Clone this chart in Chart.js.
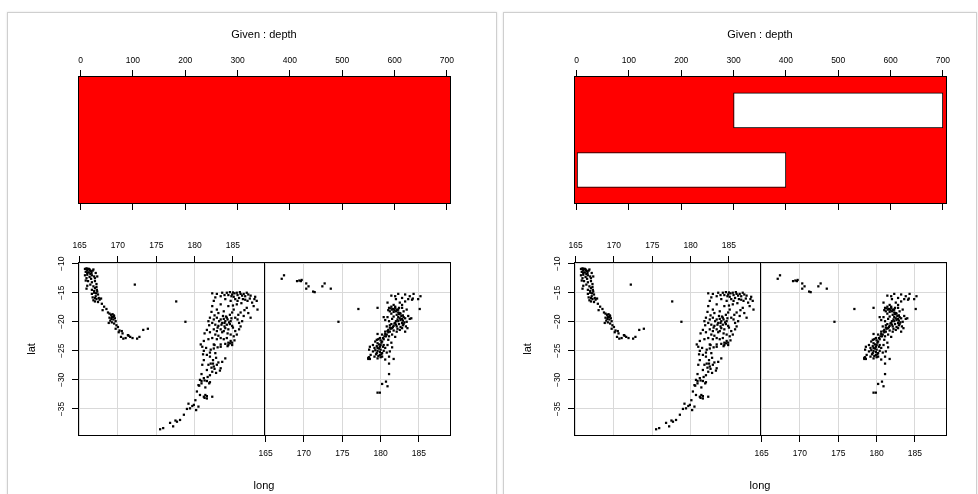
<!DOCTYPE html>
<html>
<head>
<meta charset="utf-8">
<title>Given : depth</title>
<script src="https://cdn.jsdelivr.net/npm/chart.js@4.4.1/dist/chart.umd.min.js"></script>
<style>
  html, body { margin: 0; padding: 0; background: #fff; width: 978px; height: 494px; overflow: hidden; }
  .card { position: absolute; top: 12px; height: 500px; box-sizing: border-box; border: 1px solid #cfcfcf; box-shadow: 0 0 2px rgba(0,0,0,0.12); background: #fff; }
  .plot { position: absolute; }
</style>
</head>
<body>
<div class="card" style="left:7px; width:490px;"></div>
<div class="card" style="left:503px; width:474px;"></div>
<canvas class="plot" id="givenLeft" width="489" height="220" style="left:7px; top:12px;"></canvas>
<canvas class="plot" id="scatterLeft" width="489" height="262" style="left:7px; top:232px;"></canvas>
<canvas class="plot" id="givenRight" width="489" height="220" style="left:503px; top:12px;"></canvas>
<canvas class="plot" id="scatterRight" width="489" height="262" style="left:503px; top:232px;"></canvas>
<script>
// given panel (depth)
const depthTicks = [0, 100, 200, 300, 400, 500, 600, 700];
const depthRange = [-5, 706];
const givenLevelRange = [0.43, 2.575];

// left copy draws only the red strip, right copy has the two intervals
const leftIntervalFrom = [];
const leftIntervalTo = [];
const leftIntervalLevel = [];
const rightIntervalFrom = [0, 300];
const rightIntervalTo = [400, 700];
const rightIntervalLevel = [1, 2];

// conditioning scatter (long / lat)
const longTicks = [165, 170, 175, 180, 185];
const latTicks = [-35, -30, -25, -20, -15, -10];
const longRange = [164.79, 189.05];
const latRange = [-39.66, -9.71];

// [long, lat] for the lower depth interval (left panel)
const shallowQuakes = [
  [165.7,-10.9],[165.9,-10.8],[166.1,-10.9],[166.3,-11.0],[166.0,-11.2],[165.8,-11.4],[166.2,-11.5],[166.5,-11.3],
  [166.7,-11.2],[166.4,-11.8],[166.0,-11.9],[165.7,-12.0],[166.6,-12.0],[166.9,-12.2],[167.1,-11.6],[166.3,-12.3],
  [165.9,-12.5],[166.5,-12.6],[167.0,-12.5],[166.8,-11.0],[166.2,-10.9],[165.8,-12.9],[166.1,-13.0],[166.6,-13.2],
  [167.0,-13.0],[166.4,-13.6],[166.0,-13.8],[166.8,-13.9],[167.2,-13.5],[165.9,-14.3],[166.6,-14.5],[167.0,-14.2],
  [167.3,-14.8],[166.9,-15.0],[167.4,-15.3],[167.1,-15.6],[166.7,-15.8],[167.5,-15.9],[167.2,-16.1],[166.8,-16.3],
  [167.0,-16.5],[167.6,-16.2],[167.8,-16.0],[167.4,-16.6],[166.6,-15.2],[167.2,-14.0],[167.3,-12.2],[166.0,-11.6],
  [166.35,-11.15],[165.95,-10.95],[166.55,-11.6],[167.15,-15.1],[167.25,-14.5],[167.0,-15.9],[166.9,-14.7],
  [167.9,-16.9],[168.2,-17.4],[168.0,-18.0],[168.5,-17.8],[168.7,-18.4],[168.9,-18.6],[169.1,-18.8],[169.3,-18.7],
  [169.5,-19.0],[169.2,-19.2],[168.9,-19.3],[169.6,-19.4],[169.4,-19.6],[169.0,-19.8],[169.7,-19.9],[169.2,-20.1],
  [168.8,-20.2],[169.5,-20.3],[169.8,-20.6],[170.0,-20.9],[169.7,-21.2],[170.2,-21.5],[170.1,-21.8],[170.6,-22.0],
  [170.4,-22.6],[170.7,-22.9],[171.0,-22.8],[171.4,-22.4],[171.6,-22.6],[171.9,-22.8],[172.5,-22.9],[172.8,-22.6],
  [173.3,-21.4],[173.9,-21.2],[172.2,-13.6],[169.35,-19.15],[169.45,-18.9],[169.15,-19.5],[170.5,-21.6],[171.3,-22.3],
  [177.6,-16.5],[178.8,-20.0],
  [182.3,-15.1],[182.9,-15.2],[183.4,-15.6],[184.2,-15.0],[184.6,-14.9],[184.9,-15.3],[185.1,-15.7],[185.5,-15.0],
  [186.0,-15.2],[186.4,-15.2],[186.8,-15.0],[187.3,-15.5],[187.9,-15.7],[188.1,-16.4],[187.5,-16.7],[186.9,-16.4],
  [186.3,-16.1],[185.8,-15.9],[185.3,-16.1],[184.7,-16.4],[184.0,-16.1],[184.4,-17.3],[185.1,-17.9],[185.5,-17.0],
  [186.8,-17.6],[186.0,-18.4],[187.7,-17.3],[188.2,-17.9],[187.3,-19.3],[182.5,-16.4],[183.4,-17.0],[182.9,-17.9],
  [182.3,-17.3],[183.8,-18.2],[184.9,-18.4],[185.3,-19.3],[184.7,-19.9],[184.2,-19.3],[184.0,-19.9],[183.8,-19.5],
  [183.6,-20.2],[183.4,-19.6],[182.9,-19.3],[182.5,-19.6],[182.0,-19.3],[181.8,-19.9],[182.3,-20.2],[182.7,-20.5],
  [183.1,-20.7],[184.2,-20.5],[184.9,-20.7],[185.8,-20.2],[186.2,-19.9],[186.4,-19.0],[184.4,-21.3],[183.8,-21.6],
  [183.4,-21.3],[182.9,-21.6],[182.5,-21.3],[182.0,-21.8],[185.3,-21.6],[185.5,-22.2],[185.1,-22.5],[184.7,-22.2],
  [184.2,-22.8],[183.8,-23.0],[183.4,-22.8],[182.9,-23.0],[182.3,-22.8],[181.8,-23.0],[181.2,-23.3],[180.8,-23.9],
  [182.5,-23.9],[183.4,-23.9],[184.4,-23.6],[184.7,-23.3],[184.3,-19.6],[184.5,-20.1],[183.9,-20.8],[184.8,-15.6],
  [185.6,-15.4],[186.6,-15.6],[187.0,-15.3],[185.2,-15.1],[183.9,-15.4],[184.0,-23.8],[184.9,-24.0],[184.6,-23.7],
  [185.6,-16.4],[186.1,-16.8],[185.0,-17.2],[184.6,-18.8],[183.1,-18.5],[185.7,-18.8],[181.5,-24.5],
  [183.7,-19.0],[184.1,-19.1],[183.5,-20.5],[183.9,-20.2],[184.6,-20.4],[183.2,-19.9],[184.8,-19.4],[183.0,-21.0],
  [184.0,-21.1],[183.6,-21.8],[185.0,-21.0],[184.3,-22.0],[185.8,-21.3],[186.0,-20.8],[185.6,-19.6],[186.5,-18.0],
  [187.0,-18.5],[186.6,-16.2],[187.2,-16.0],[187.8,-16.1],[186.2,-15.5],[185.9,-14.9],[185.0,-14.95],[184.4,-15.4],
  [183.6,-15.0],[182.7,-15.8],[182.2,-18.3],[182.6,-18.9],[181.9,-20.6],[181.6,-21.4],[181.3,-22.0],[182.7,-22.2],
  [183.1,-22.4],[184.9,-23.6],[185.2,-23.2],[184.3,-24.2],[183.0,-24.4],[182.1,-24.8],
  [181.0,-24.3],[181.2,-25.0],[182.5,-24.6],[182.7,-25.4],[183.4,-24.3],[184.4,-24.0],[182.0,-26.0],[182.4,-26.6],
  [182.1,-27.2],[181.8,-27.4],[182.5,-27.7],[182.9,-27.4],[183.4,-28.0],[183.6,-26.9],[184.0,-26.3],[181.6,-28.3],
  [182.3,-28.6],[182.0,-29.2],[181.2,-26.6],[181.0,-27.4],[180.7,-30.0],[181.2,-29.7],[181.6,-30.2],[182.0,-30.4],
  [180.9,-30.6],[180.5,-30.9],[180.3,-32.0],[180.7,-32.6],[181.2,-32.9],[181.4,-32.6],[181.6,-33.2],[182.3,-32.9],
  [180.1,-33.5],[179.9,-34.3],[180.2,-35.2],[180.5,-34.6],[182.2,-27.9],[182.6,-28.1],[182.0,-25.3],[181.1,-25.6],
  [183.3,-28.4],[180.9,-30.2],[181.3,-30.1],[181.6,-32.8],[181.3,-33.1],[181.9,-30.6],[182.6,-24.0],[181.4,-31.3],
  [180.6,-31.0],[181.6,-25.7],[182.8,-26.2],[183.1,-27.0],[182.4,-27.2],[182.8,-28.8],[181.7,-29.5],[180.9,-29.0],
  [179.2,-34.1],[179.4,-34.9],[178.6,-36.0],[178.1,-36.9],[177.7,-37.2],[177.5,-37.0],[176.8,-37.4],[177.2,-38.0],
  [175.9,-38.3],[175.5,-38.5],[179.7,-34.5],[179.0,-35.0]
];

// [long, lat] for the upper depth interval (right panel)
const deepQuakes = [
  [167.1,-12.6],[167.4,-12.0],[169.1,-13.0],[169.4,-12.9],[169.6,-13.0],[169.7,-12.8],[170.3,-13.4],[170.6,-13.9],
  [170.3,-14.3],[171.2,-14.8],[171.4,-14.9],[172.4,-13.9],[172.7,-13.4],[173.5,-14.3],
  [177.1,-17.8],[174.5,-20.0],[179.6,-17.6],
  [181.4,-15.5],[182.3,-15.2],[183.2,-15.3],[184.3,-15.2],[185.2,-15.6],[184.9,-16.1],[185.1,-17.8],[183.6,-16.1],
  [184.1,-16.2],[182.8,-15.9],[182.5,-16.7],[182.0,-16.1],[180.9,-16.7],[181.7,-17.1],[181.4,-17.4],[181.1,-17.6],
  [181.5,-17.9],[181.9,-17.6],[182.3,-17.9],[182.8,-17.6],[183.4,-17.9],[182.5,-18.5],[182.1,-18.8],[182.3,-19.2],
  [182.8,-19.5],[183.2,-19.4],[183.8,-19.5],[183.1,-20.1],[182.8,-20.2],[182.3,-19.9],[181.9,-20.2],[181.7,-20.7],
  [182.1,-20.8],[181.5,-21.1],[181.2,-20.6],[181.0,-21.4],[180.8,-20.8],[180.6,-21.7],[181.2,-21.7],[181.7,-21.5],
  [182.1,-21.7],[182.5,-21.4],[182.8,-21.1],[183.2,-21.7],[180.4,-19.2],[180.6,-19.7],[180.9,-19.2],[181.1,-19.9],
  [181.5,-19.5],[181.7,-19.1],[180.2,-22.2],[180.5,-22.5],[180.8,-22.2],[181.1,-22.5],[181.5,-22.2],[181.9,-22.6],
  [181.0,-23.1],[179.9,-22.8],[179.6,-22.1],[179.5,-23.1],[179.3,-23.4],[179.6,-23.7],[180.2,-23.4],[180.4,-24.0],
  [179.9,-24.3],[179.6,-24.5],[180.0,-24.8],[179.2,-24.5],[179.0,-25.1],[179.5,-25.4],[179.9,-25.7],[179.6,-26.3],
  [180.2,-26.0],[179.2,-26.0],[178.7,-25.7],[178.5,-24.8],[178.4,-26.2],[178.4,-26.4],[178.6,-26.4],[180.6,-24.5],
  [180.8,-25.3],[181.2,-25.1],[181.1,-26.0],[181.7,-26.4],[179.0,-24.0],[178.6,-24.3],[181.1,-27.2],[181.1,-29.0],
  [180.2,-30.7],[180.7,-30.3],[180.9,-31.1],[179.6,-32.2],[179.9,-32.2],[183.5,-21.1],[182.9,-20.6],[183.4,-20.0],
  [184.0,-19.4],[182.8,-17.1],[183.2,-16.5],[181.9,-15.6],[183.8,-15.6],[184.2,-16.0],
  [181.6,-17.8],[181.8,-18.0],[182.0,-18.2],[181.9,-17.4],[182.2,-18.0],[182.6,-18.6],[182.7,-19.0],[182.5,-19.4],
  [182.9,-19.8],[182.4,-20.4],[182.0,-20.5],[181.6,-20.9],[181.3,-21.2],[181.0,-21.8],[180.7,-22.5],[180.4,-23.0],
  [180.1,-23.6],[180.0,-24.0],[179.8,-24.6],[179.9,-25.2],[180.2,-25.4],[179.7,-25.9],[180.0,-26.1],[181.2,-18.2],
  [181.4,-18.6],[182.3,-18.4],[183.0,-20.4],[182.6,-20.9],
  [181.3,-17.7],[181.7,-18.3],[182.1,-17.9],[182.4,-18.7],[182.9,-18.9],[183.0,-19.2],[182.6,-19.7],[182.2,-19.6],
  [182.0,-19.9],[181.8,-20.3],[181.4,-20.4],[181.2,-21.0],[180.9,-21.6],[180.6,-22.1],[180.3,-22.8],[180.0,-23.2],
  [179.7,-23.0],[179.8,-23.9],[180.3,-24.3],[179.5,-24.2],[179.3,-24.9],[180.4,-25.0],[179.6,-25.0],[180.1,-25.6],
  [179.4,-25.6],[178.4,-26.3],[178.5,-26.1],[181.0,-18.0],[182.4,-17.6],[183.0,-18.2],[183.6,-19.0],[183.3,-20.8],
  [182.2,-21.2],[181.4,-23.6],[180.9,-24.0],[181.5,-24.4],[180.6,-26.5]
];

const AXIS_FONT = { family: '"Liberation Sans", Arial, Helvetica, sans-serif', size: 8.5 };
const TITLE_FONT = { family: '"Liberation Sans", Arial, Helvetica, sans-serif', size: 11 };
const GRID_COLOR = '#d9d9d9';

const minusSign = (v) => String(v).replace('-', '\u2212');
const fixedTicks = (values) => (scale) => { scale.ticks = values.map(v => ({ value: v })); };
const fixedSize = (prop, size) => (scale) => { scale[prop] = size; };

/**
 * Red background for the given panel, black frame round each panel.
 * With split on, the frame follows the two long scales (one per panel).
 */
const panelFrame = {
  id: 'panelFrame',
  beforeDraw(chart, args, opts) {
    if (!opts.fill) return;
    const a = chart.chartArea;
    const ctx = chart.ctx;
    ctx.save();
    ctx.fillStyle = opts.fill;
    ctx.fillRect(a.left, a.top, a.right - a.left, a.bottom - a.top);
    ctx.restore();
  },
  afterDraw(chart, args, opts) {
    const a = chart.chartArea;
    const ctx = chart.ctx;
    let spans = [[a.left, a.right]];
    if (opts.split) {
      const top = chart.scales.xTop;
      const bottom = chart.scales.xBottom;
      spans = [
        [top.getPixelForValue(longRange[0]), top.getPixelForValue(longRange[1])],
        [bottom.getPixelForValue(longRange[0]), bottom.getPixelForValue(longRange[1])]
      ];
    }
    ctx.save();
    ctx.strokeStyle = '#000';
    ctx.lineWidth = 1;
    const y0 = Math.round(a.top) + 0.5;
    const y1 = Math.round(a.bottom) - 0.5;
    spans.forEach(([l, r]) => {
      const x0 = Math.round(l) + 0.5;
      const x1 = Math.round(r) + 0.5;
      ctx.strokeRect(x0, y0, x1 - x0, y1 - y0);
    });
    ctx.restore();
  }
};

function depthAxis(position, height, showLabels, title) {
  return {
    type: 'linear',
    position,
    min: depthRange[0],
    max: depthRange[1],
    afterBuildTicks: fixedTicks(depthTicks),
    afterFit: fixedSize('height', height),
    border: { display: false },
    grid: { drawOnChartArea: false, drawTicks: true, tickLength: 6, tickColor: '#000' },
    ticks: { display: showLabels, font: AXIS_FONT, color: '#000', padding: 4.7, maxRotation: 0, autoSkip: false },
    title: title ? { display: true, text: title, font: TITLE_FONT, color: '#000', padding: { top: 16.4, bottom: 0 } } : { display: false }
  };
}

function renderGivenPanel(canvasId, from, to, level) {
  const bars = from.map((f, i) => ({ x: [f, to[i]], y: level[i] }));
  return new Chart(document.getElementById(canvasId), {
    type: 'bar',
    data: {
      datasets: [{
        data: bars,
        backgroundColor: '#ffffff',
        borderColor: '#000000',
        borderWidth: 1,
        borderSkipped: false,
        barThickness: 35
      }]
    },
    options: {
      indexAxis: 'y',
      responsive: false,
      animation: false,
      events: [],
      layout: { padding: { left: 71, right: 46, top: 0, bottom: 0 } },
      plugins: {
        legend: { display: false },
        tooltip: { enabled: false },
        panelFrame: { fill: '#ff0000' }
      },
      scales: {
        x: depthAxis('top', 64, true, 'Given : depth'),
        x2: depthAxis('bottom', 28, false, null),
        y: { type: 'linear', display: false, offset: false, grid: { offset: false }, min: givenLevelRange[0], max: givenLevelRange[1] }
      }
    },
    plugins: [panelFrame]
  });
}

function longAxis(position, min, max, height, title) {
  return {
    type: 'linear',
    position,
    min,
    max,
    afterBuildTicks: fixedTicks(longTicks),
    afterFit: fixedSize('height', height),
    border: { display: false },
    grid: { color: GRID_COLOR, tickColor: '#000', tickLength: 6, lineWidth: 1 },
    ticks: { font: AXIS_FONT, color: '#000', padding: position === 'top' ? 5.2 : 6.2, maxRotation: 0, autoSkip: false },
    title: title ? { display: true, text: title, font: TITLE_FONT, color: '#000', padding: { top: 0, bottom: 1.4 } } : { display: false }
  };
}

function renderScatterPanel(canvasId) {
  const span = longRange[1] - longRange[0];
  const toPoints = (list) => list.map(([lon, lat]) => ({ x: lon, y: lat }));
  const pointStyle = {
    pointStyle: 'rect',
    pointRadius: 1.6,
    pointBorderWidth: 0,
    pointBackgroundColor: '#000',
    showLine: false
  };
  return new Chart(document.getElementById(canvasId), {
    type: 'scatter',
    data: {
      datasets: [
        { data: toPoints(shallowQuakes), xAxisID: 'xTop', yAxisID: 'y', ...pointStyle },
        { data: toPoints(deepQuakes), xAxisID: 'xBottom', yAxisID: 'y', ...pointStyle }
      ]
    },
    options: {
      responsive: false,
      animation: false,
      events: [],
      layout: { padding: { left: 0, right: 46, top: 0, bottom: 0 } },
      plugins: {
        legend: { display: false },
        tooltip: { enabled: false },
        panelFrame: { split: true }
      },
      scales: {
        // left panel reads the top axis, right panel the bottom one
        xTop: longAxis('top', longRange[0], longRange[0] + 2 * span, 30, null),
        xBottom: longAxis('bottom', longRange[1] - 2 * span, longRange[1], 58, 'long'),
        y: {
          type: 'linear',
          position: 'left',
          min: latRange[0],
          max: latRange[1],
          afterBuildTicks: fixedTicks(latTicks),
          afterFit: fixedSize('width', 71),
          border: { display: false },
          grid: { color: GRID_COLOR, tickColor: '#000', tickLength: 6 },
          ticks: {
            font: AXIS_FONT, color: '#000', padding: 3.1, autoSkip: false,
            minRotation: 90, maxRotation: 90, crossAlign: 'center',
            callback: minusSign
          },
          title: { display: true, text: 'lat', font: TITLE_FONT, color: '#000', padding: { top: 18, bottom: 0 } }
        }
      }
    },
    plugins: [panelFrame]
  });
}

renderGivenPanel('givenLeft', leftIntervalFrom, leftIntervalTo, leftIntervalLevel);
renderGivenPanel('givenRight', rightIntervalFrom, rightIntervalTo, rightIntervalLevel);
renderScatterPanel('scatterLeft');
renderScatterPanel('scatterRight');
</script>
</body>
</html>
